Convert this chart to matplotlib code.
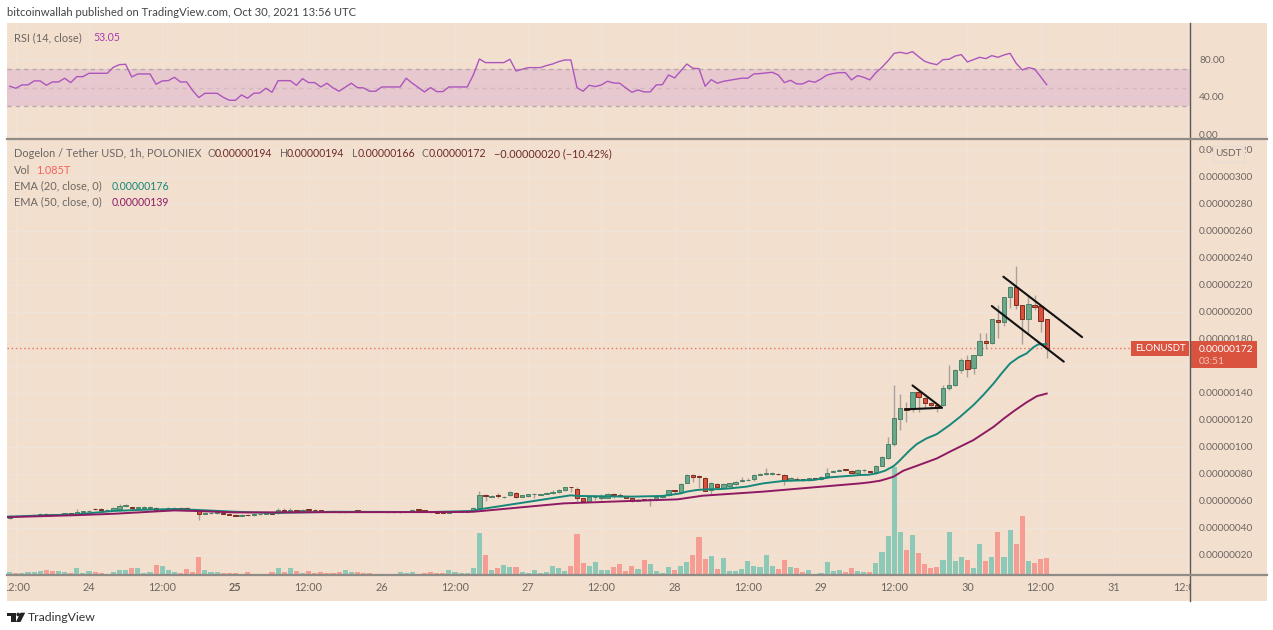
import matplotlib
matplotlib.use("Agg")
import matplotlib.pyplot as plt
import numpy as np
from matplotlib.patches import Rectangle, Circle, Polygon

plt.rcParams["font.family"] = ["Lato", "DejaVu Sans"]

# prices are in units of 0.00000001, hours counted from Oct 24 00:00
hours = np.arange(-13, 158)

opens = [47.5, 49.0, 48.6, 49.0, 49.3, 49.8, 50.4, 50.0, 49.7, 50.0,
         50.8, 50.3, 52.0, 52.2, 54.4, 54.1, 53.0, 53.3, 54.3, 56.0,
         55.4, 54.6, 54.8, 54.7, 55.0, 53.5, 54.0, 54.3, 54.7, 54.8,
         54.0, 52.9, 50.3, 50.8, 51.0, 51.3, 50.6, 49.8, 49.1, 49.8,
         49.3, 50.1, 50.3, 51.0, 50.8, 53.0, 52.6, 53.0, 52.6, 53.5,
         53.3, 53.0, 52.6, 52.1, 51.8, 51.6, 52.1, 52.7, 52.6, 52.1,
         51.8, 52.1, 51.8, 51.6, 51.6, 51.8, 52.4, 53.7, 53.4, 51.9,
         51.6, 51.5, 51.3, 51.9, 52.0, 52.0, 52.6, 55.0, 64.4, 63.2,
         64.2, 62.6, 64.2, 66.1, 63.2, 63.4, 64.9, 64.7, 64.9, 65.9,
         66.6, 67.9, 70.2, 68.8, 61.9, 59.5, 62.6, 62.4, 62.4, 65.1,
         64.6, 63.9, 61.9, 60.2, 60.7, 60.6, 60.4, 62.7, 64.2, 67.9,
         66.6, 73.3, 79.2, 78.2, 77.0, 68.1, 72.8, 69.6, 71.1, 72.3,
         75.0, 75.2, 76.5, 79.3, 79.8, 80.2, 80.1, 79.2, 75.5, 76.6,
         76.0, 75.5, 76.7, 76.0, 78.2, 81.8, 82.2, 83.0, 82.2, 80.4,
         82.6, 81.9, 81.1, 86.1, 91.8, 101.9, 120.6, 128.5, 128.5, 140.4,
         136.4, 132.7, 130.7, 130.7, 143.6, 145.5, 156.9, 164.3, 158.6, 167.7,
         178.6, 176.9, 193.9, 192.2, 210.7, 218.3, 204.7, 194.9, 205.2, 204.5, 194.4]
closes = [49.0, 48.6, 49.0, 49.3, 49.8, 50.3, 49.9, 49.7, 50.1, 50.8,
          50.3, 52.1, 52.3, 52.7, 53.8, 53.6, 53.4, 55.0, 56.5, 56.7,
          54.8, 54.9, 55.1, 55.0, 53.3, 54.0, 54.4, 54.6, 54.4, 54.2,
          53.2, 50.1, 50.8, 51.0, 51.3, 50.6, 49.8, 49.1, 49.8, 49.3,
          50.1, 50.3, 50.6, 50.5, 53.0, 52.8, 53.0, 52.6, 53.5, 53.3,
          53.0, 52.6, 52.1, 51.8, 51.6, 52.1, 52.6, 52.6, 52.1, 51.8,
          52.1, 51.8, 51.6, 51.6, 51.8, 52.4, 53.6, 53.4, 52.0, 51.6,
          51.3, 51.2, 52.1, 52.1, 52.2, 52.2, 55.0, 64.2, 63.8, 63.5,
          63.8, 63.2, 66.4, 63.2, 64.1, 65.1, 64.9, 64.9, 65.9, 66.9,
          68.1, 70.1, 70.0, 62.4, 60.0, 62.7, 62.8, 62.8, 65.1, 64.6,
          63.9, 62.2, 60.2, 60.7, 60.6, 60.8, 62.7, 63.7, 67.9, 67.5,
          72.3, 79.4, 77.5, 77.8, 67.6, 73.0, 70.3, 72.5, 73.0, 74.3,
          75.5, 75.5, 79.2, 79.7, 80.2, 80.2, 79.7, 75.5, 77.2, 76.0,
          75.5, 76.7, 76.2, 78.0, 80.9, 82.2, 82.9, 82.7, 80.4, 82.9,
          82.8, 81.6, 85.8, 92.5, 102.1, 121.4, 128.5, 127.3, 140.6, 136.7,
          132.7, 130.7, 129.3, 143.6, 145.8, 156.9, 164.5, 157.6, 167.7, 178.3,
          176.9, 194.6, 192.7, 210.7, 218.3, 205.0, 194.9, 205.5, 203.8, 192.9, 172.9]
highs = [49.5, 49.5, 49.5, 49.8, 50.3, 50.8, 50.8, 50.5, 50.6, 51.3,
         51.0, 54.4, 52.8, 53.2, 54.9, 54.5, 54.0, 55.6, 57.4, 57.6,
         55.8, 55.6, 56.2, 56.0, 55.3, 54.6, 55.6, 55.4, 55.4, 55.2,
         54.3, 53.1, 51.3, 51.5, 51.8, 51.6, 50.9, 50.1, 50.3, 50.1,
         50.5, 50.7, 51.1, 51.2, 55.0, 54.6, 54.8, 53.1, 54.0, 53.9,
         54.4, 53.3, 52.9, 52.4, 52.1, 52.4, 52.9, 53.1, 52.9, 52.4,
         52.4, 52.4, 52.1, 51.9, 52.1, 52.7, 53.9, 53.9, 53.6, 52.2,
         51.8, 51.7, 52.5, 52.8, 52.7, 52.6, 55.6, 67.6, 64.8, 64.4,
         65.9, 63.9, 67.6, 66.6, 64.7, 65.5, 65.6, 65.4, 66.7, 68.1,
         68.6, 70.4, 70.6, 70.1, 62.4, 63.2, 64.4, 64.9, 65.6, 65.6,
         65.6, 64.4, 62.4, 61.2, 61.2, 61.9, 63.2, 64.2, 68.3, 68.3,
         73.0, 80.0, 80.0, 79.2, 77.4, 74.0, 73.2, 73.0, 73.5, 74.8,
         77.9, 77.2, 80.3, 81.0, 84.6, 81.2, 80.5, 79.6, 77.6, 77.6,
         76.4, 77.1, 76.7, 78.4, 84.1, 82.9, 83.5, 83.4, 82.6, 83.3,
         84.0, 82.4, 86.4, 93.0, 107.5, 145.8, 138.9, 133.5, 141.0, 141.0,
         137.2, 133.2, 131.2, 145.5, 160.6, 157.4, 165.5, 168.0, 168.0, 184.0,
         184.0, 195.0, 205.0, 211.2, 219.0, 233.9, 205.0, 212.4, 212.4, 205.0, 194.5]
lows = [47.0, 48.2, 48.2, 48.6, 49.0, 49.5, 49.5, 49.4, 49.4, 49.7,
        50.0, 50.0, 51.8, 52.0, 53.5, 53.3, 52.8, 53.0, 53.8, 55.6,
        54.4, 54.2, 54.4, 54.3, 52.6, 53.2, 53.6, 53.9, 54.0, 53.9,
        53.0, 45.9, 50.0, 50.5, 50.7, 50.3, 49.5, 48.8, 48.8, 49.0,
        49.0, 49.9, 50.1, 50.2, 50.4, 52.2, 52.2, 52.3, 52.3, 52.8,
        52.7, 52.3, 51.8, 51.5, 51.3, 51.4, 51.9, 52.2, 51.8, 51.5,
        51.6, 51.5, 51.3, 51.3, 51.4, 51.6, 52.2, 53.0, 51.6, 51.3,
        51.0, 50.9, 51.0, 51.5, 51.6, 51.7, 52.2, 53.3, 60.2, 62.6,
        62.3, 62.4, 63.9, 61.9, 62.9, 63.0, 62.4, 64.2, 65.2, 65.4,
        66.2, 67.6, 67.0, 59.5, 59.3, 59.0, 60.7, 60.5, 62.0, 62.4,
        63.2, 61.9, 59.3, 59.9, 59.8, 56.3, 59.9, 62.3, 63.9, 65.6,
        66.0, 73.0, 74.0, 69.3, 67.2, 64.4, 69.9, 69.2, 70.7, 71.9,
        74.3, 74.8, 74.5, 78.9, 79.4, 79.5, 79.2, 71.8, 75.1, 75.2,
        74.6, 75.1, 75.8, 75.7, 77.4, 81.3, 81.9, 82.2, 79.6, 80.0,
        81.8, 81.0, 80.7, 85.7, 91.3, 100.6, 112.5, 118.6, 126.0, 126.0,
        128.5, 129.5, 126.0, 130.2, 142.1, 145.0, 154.9, 151.5, 153.7, 167.3,
        172.2, 176.4, 180.8, 189.7, 202.5, 201.8, 175.9, 184.0, 201.3, 184.8, 166.0]

# volume read as bar heights off the pane, last bar is 1.085T
volumes = [10, 6, 7, 10, 8, 12, 16, 12, 11, 8,
           5, 21, 6, 13, 10, 7, 3, 9, 14, 16,
           21, 21, 7, 10, 30, 27, 14, 9, 5, 19,
           10, 55, 16, 10, 10, 5, 6, 7, 4, 10,
           3, 3, 4, 10, 22, 8, 21, 13, 6, 13,
           5, 10, 7, 7, 9, 16, 8, 10, 7, 5,
           3, 3, 3, 3, 10, 5, 8, 3, 6,
           8, 5, 6, 14, 8, 6, 6, 21, 125, 60,
           16, 20, 30, 25, 25, 10, 5, 15, 6, 10,
           26, 20, 12, 26, 122, 35, 27, 40, 15, 15,
           25, 32, 11, 26, 18, 44, 34, 12, 7, 23,
           15, 28, 40, 60, 115, 48, 56, 18, 52, 11,
           12, 18, 41, 27, 23, 60, 28, 18, 45, 23,
           21, 9, 15, 3, 7, 40, 11, 16, 8, 21, 11,
           9, 9, 35, 70, 118, 325, 130, 74, 119, 67,
           32, 20, 25, 44, 130, 41, 55, 44, 22, 92,
           42, 55, 130, 55, 135, 92, 178, 41, 37, 47, 52]

rsi = [51.4, 49.2, 52.8, 52.8, 57.1, 57.1, 52.4, 56.0, 56.0, 60.0,
       55.3, 61.7, 61.7, 65.3, 65.3, 65.3, 65.3, 71.8, 74.6, 75.0,
       61.4, 64.6, 64.6, 64.6, 53.5, 57.1, 57.4, 61.0, 56.0, 56.0,
       46.7, 39.2, 43.8, 43.8, 43.8, 39.5, 36.3, 36.3, 42.0, 38.5,
       43.8, 44.2, 49.2, 44.9, 57.4, 57.4, 57.4, 52.4, 59.6, 55.3,
       55.3, 50.6, 54.6, 49.6, 46.0, 50.3, 54.6, 49.9, 49.6, 46.0,
       46.0, 50.6, 50.6, 50.6, 50.6, 60.0, 54.6, 49.9, 45.3, 49.9,
       45.6, 45.6, 50.6, 50.6, 50.6, 50.6, 63.5, 80.7, 76.8, 76.8,
       76.8, 76.8, 80.4, 67.8, 69.6, 71.4, 71.4, 71.4, 73.6, 75.3,
       77.9, 79.6, 79.6, 49.9, 46.0, 52.4, 51.0,
       52.8, 56.7, 54.9, 54.6, 49.6, 44.9, 47.4, 45.3, 45.3, 52.8,
       53.1, 63.5, 60.3, 67.8, 75.3, 70.7, 70.3, 51.4, 58.5, 54.6,
       56.7, 57.8, 58.9, 60.0, 60.0, 64.6, 65.0, 65.7, 66.4, 63.5,
       55.3, 57.8, 53.9, 53.9, 57.1, 55.7, 59.2, 63.5, 65.0, 66.0,
       66.0, 58.2, 62.8, 61.0, 58.2, 66.0, 71.8, 78.9, 86.8, 87.9,
       86.4, 88.6, 83.2, 78.2, 76.0, 74.6, 80.0, 80.4, 83.9, 85.4,
       77.5, 80.0, 82.5, 81.1, 84.3, 82.5, 85.0, 86.8, 76.0, 68.9,
       71.4, 70.0, 61.7, 53.05]

ema20_hours = [-13.4, -2, 4, 9, 14, 18, 24, 30, 40, 56, 63, 64, 79, 80, 89, 94, 97, 98, 99.6,
               101.2, 103.4, 105, 107.8, 110.5, 113.8, 118.7, 121.5, 126.4, 127.8, 129.1, 130.5,
               131.9, 132.7, 133.5, 134.6, 135.7, 137.3, 139, 141.1, 142.8, 145, 146.6, 148.3,
               149.6, 151, 152.4, 153.7, 154.8, 155.6, 157]
ema20 = [48.4, 50.1, 52.6, 53.5, 54.0, 53.3, 52.0, 51.1, 52.0, 51.8, 52.6, 53.8, 64.2, 63.7,
         63.2, 63.7, 65.6, 66.9, 68.1, 68.6, 68.8, 69.3, 70.6, 73.0, 74.8, 75.5, 77.5, 79.2,
         79.4, 80.4, 82.4, 85.8, 89.0, 92.7, 97.7, 102.1, 106.3, 109.5, 116.2, 122.3, 131.0,
         138.4, 147.0, 154.4, 161.8, 166.3, 169.2, 173.7, 175.9, 176.1]
ema50_hours = [-13.4, -2, 4, 14, 18, 24, 40, 60, 63, 77.8, 88.7, 96.5, 100.6, 110.5, 126.4,
               128, 129.7, 131, 131.9, 133.5, 135.7, 139, 141.1, 145, 148.3, 150, 151.7,
               153.7, 155.4, 157]
ema50 = [48.0, 49.5, 50.5, 53.0, 52.5, 51.5, 51.7, 51.8, 52.0, 58.2, 60.0, 61.2, 63.9, 66.9,
         73.0, 73.8, 75.0, 76.7, 78.0, 82.4, 86.0, 91.5, 96.4, 105.1, 114.9, 121.1, 126.8,
         133.0, 137.6, 139.5]

# hand drawn pattern lines, hour and price of each end
pattern_hours = [(149.9, 162.8), (148.0, 159.8), (135.0, 139.8), (133.8, 139.8)]
pattern_prices = [(226.0, 181.3), (204.3, 163.1), (145.5, 129.0), (127.8, 129.0)]

last_price = 172.9
time_ticks = np.arange(-12, 181, 12)
time_labels = ["12:00", "24", "12:00", "25", "12:00", "26", "12:00", "27", "12:00", "28",
               "12:00", "29", "12:00", "30", "12:00", "31", "12:00"]
price_ticks = np.arange(20, 321, 20)
rsi_ticks = [0, 40, 80]

W, H = 1273, 630
BG = "#f3dfce"
GRID = "#efe4da"
TEXT = "#6b6662"
MAROON = "#6e2a26"
UP, UP_EDGE = "#6ba88b", "#4a8268"
DOWN, DOWN_EDGE = "#d9503c", "#7d2c1f"
VOL_UP, VOL_DOWN = "#8ec8b7", "#f59d92"
AX_LEFT, AX_RIGHT = 7, 1190
PRICE_TOP, PRICE_BOTTOM = 140, 575
RSI_TOP, RSI_BOTTOM = 23, 138


def pane(top, bottom, zorder):
    ax = fig.add_axes([AX_LEFT / W, 1 - bottom / H, (AX_RIGHT - AX_LEFT) / W, (bottom - top) / H])
    ax.set_zorder(zorder)
    ax.patch.set_alpha(0)
    ax.set_xlim((AX_LEFT - 89) / 6.1, (AX_RIGHT - 89) / 6.1)
    ax.set_xticks(time_ticks)
    ax.tick_params(length=0, labelbottom=False, labelleft=False)
    for spine in ax.spines.values():
        spine.set_visible(False)
    return ax


fig = plt.figure(figsize=(W / 100, H / 100), dpi=100, facecolor="white")

# pixel space layer for the frame and the header texts
bg = fig.add_axes([0, 0, 1, 1], zorder=0)
bg.set_xlim(0, W)
bg.set_ylim(H, 0)
bg.axis("off")
bg.add_patch(Rectangle((7, 23), 1260, 578, facecolor=BG, edgecolor="none"))

top = fig.add_axes([0, 0, 1, 1], zorder=6)
top.set_xlim(0, W)
top.set_ylim(H, 0)
top.axis("off")

# RSI pane
rsi_ax = pane(RSI_TOP, RSI_BOTTOM, 1)
rsi_ax.set_ylim(-4.3, 119.4)
rsi_ax.set_yticks(rsi_ticks)
rsi_ax.set_yticklabels(["%.2f" % v for v in rsi_ticks])
rsi_ax.tick_params(axis="y", right=False, labelright=True, pad=6.5, labelsize=7.3, labelcolor=TEXT)
rsi_ax.grid(True, color=GRID, linewidth=1)
rsi_ax.set_axisbelow(True)
rsi_ax.axhspan(30, 70, color="#d3a3d0", alpha=0.38, linewidth=0)
for level, alpha in [(70, 1), (50, 0.45), (30, 1)]:
    rsi_ax.axhline(level, color="#b9a9ad", linewidth=1, linestyle=(0, (3, 3)), alpha=alpha)
rsi_ax.plot(hours, rsi, color="#ad55bd", linewidth=1.0)

# price pane, grid and labels at the back, then volume, then candles
price_ax = pane(PRICE_TOP, PRICE_BOTTOM, 1)
price_lim = (20 + (555 - PRICE_BOTTOM) * 0.7402, 20 + (555 - PRICE_TOP) * 0.7402)
price_ax.set_ylim(price_lim)
price_ax.set_yticks(price_ticks)
# the 160 label sits behind the price tag in the original
price_ax.set_yticklabels(["" if v == 160 else "%.8f" % (v * 1e-8) for v in price_ticks])
price_ax.tick_params(axis="y", right=False, labelright=True, pad=6.5, labelsize=7.3, labelcolor=TEXT)
price_ax.grid(True, color=GRID, linewidth=1)
price_ax.set_axisbelow(True)

is_up = np.array(closes) >= np.array(opens)

vol_ax = pane(PRICE_TOP, PRICE_BOTTOM, 2)
vol_ax.set_ylim(0, 1305)
vol_ax.set_yticks([])
vol_ax.set_xticks([])
vol_ax.bar(hours, volumes, width=0.82, color=[VOL_UP if u else VOL_DOWN for u in is_up], linewidth=0)

candle_ax = pane(PRICE_TOP, PRICE_BOTTOM, 3)
candle_ax.set_ylim(price_lim)
candle_ax.set_yticks([])
candle_ax.set_xticks([])
candle_ax.axhline(last_price, color="#e8735f", linewidth=1, linestyle=(0, (1, 2)), zorder=1)
candle_ax.vlines(hours, lows, highs, color="#a8a29a", linewidth=1, zorder=2)
bottoms = np.minimum(opens, closes)
heights = np.maximum(np.abs(np.array(closes) - np.array(opens)), 0.6)
candle_ax.bar(hours, heights, bottom=bottoms, width=0.72,
              color=[UP if u else DOWN for u in is_up],
              edgecolor=[UP_EDGE if u else DOWN_EDGE for u in is_up], linewidth=0.7, zorder=3)
candle_ax.plot(ema20_hours, ema20, color="#16887a", linewidth=1.4, zorder=4)
candle_ax.plot(ema50_hours, ema50, color="#8e1a63", linewidth=1.4, zorder=4)
for xs, ys in zip(pattern_hours, pattern_prices):
    candle_ax.plot(xs, ys, color="#111111", linewidth=1.5, solid_capstyle="round", zorder=5)

# frame lines
top.plot([AX_RIGHT, AX_RIGHT], [23, 601], color="#5c5a58", linewidth=1)
top.plot([7, 1267], [139, 139], color="#8f8b86", linewidth=1.6)
top.plot([7, 1267], [575, 575], color="#8f8b86", linewidth=1.6)

# time axis labels, the two outer ones get cut by the frame
clip = Rectangle((AX_LEFT, 576), AX_RIGHT - AX_LEFT, 25, transform=top.transData)
for hour, label in zip(time_ticks, time_labels):
    t = top.text(89 + 6.1 * hour, 587.5, label, ha="center", va="center", fontsize=7.8, color=TEXT,
                 fontweight="bold" if label == "25" else "normal")
    t.set_clip_on(True)
    t.set_clip_path(clip)

# header
bg.text(7, 12.5, "bitcoinwallah published on TradingView.com, Oct 30, 2021 13:56 UTC",
        fontsize=8.1, color="#444444", va="center")

# legends
top.text(14, 37.5, "RSI (14, close)", fontsize=7.9, color=TEXT, va="center")
top.text(93, 37.5, "53.05", fontsize=7.6, color="#a63cb0", va="center")
top.text(14, 153.5, "Dogelon / Tether USD, 1h, POLONIEX", fontsize=7.9, color=TEXT, va="center")
for x, letter, value_x, value in [(208, "O", 215, "0.00000194"), (280, "H", 287, "0.00000194"),
                                  (352, "L", 358, "0.00000166"), (422, "C", 429, "0.00000172")]:
    top.text(x, 153.5, letter, fontsize=7.6, color=TEXT, va="center")
    top.text(value_x, 153.5, value, fontsize=7.6, color=MAROON, va="center")
top.text(494, 153.5, "\u22120.00000020 (\u221210.42%)", fontsize=7.8, color=MAROON, va="center")
top.text(14, 170, "Vol", fontsize=7.9, color=TEXT, va="center")
top.text(36.5, 170, "1.085T", fontsize=7.8, color="#f4645f", va="center")
top.text(14, 186, "EMA (20, close, 0)", fontsize=7.9, color=TEXT, va="center")
top.text(112, 186, "0.00000176", fontsize=7.6, color="#16887a", va="center")
top.text(14, 202, "EMA (50, close, 0)", fontsize=7.9, color=TEXT, va="center")
top.text(112, 202, "0.00000139", fontsize=7.6, color="#8e1a63", va="center")

# price tags
top.add_patch(Rectangle((1131, 341), 58, 15, facecolor="#d9533f", edgecolor="none"))
top.text(1160, 348.5, "ELONUSDT", fontsize=6.9, color="white", ha="center", va="center")
top.add_patch(Rectangle((1190, 341), 67, 27, facecolor="#d9533f", edgecolor="none"))
top.text(1199, 349, "0.00000172", fontsize=7.3, color="white", va="center")
top.text(1199, 361, "03:51", fontsize=7.3, color="#f4c4b6", va="center")
top.add_patch(Rectangle((1213, 146), 31, 16, facecolor=BG, edgecolor="#e6ddd8", linewidth=1))
top.text(1228.5, 153.5, "USDT", fontsize=7.3, color=TEXT, ha="center", va="center")

# footer logo
top.add_patch(Polygon([(7, 612.7), (15.5, 612.7), (15.5, 622), (11, 622), (11, 616), (7, 616)],
                      facecolor="#222222", edgecolor="none"))
top.add_patch(Circle((18.2, 614.5), 1.8, facecolor="#222222", edgecolor="none"))
top.add_patch(Polygon([(20.5, 612.7), (25.2, 612.7), (20.5, 622), (15.9, 622)],
                      facecolor="#222222", edgecolor="none"))
top.text(28, 617.5, "TradingView", fontsize=8.8, color="#333333", va="center")

fig.savefig("out.png", dpi=100)
